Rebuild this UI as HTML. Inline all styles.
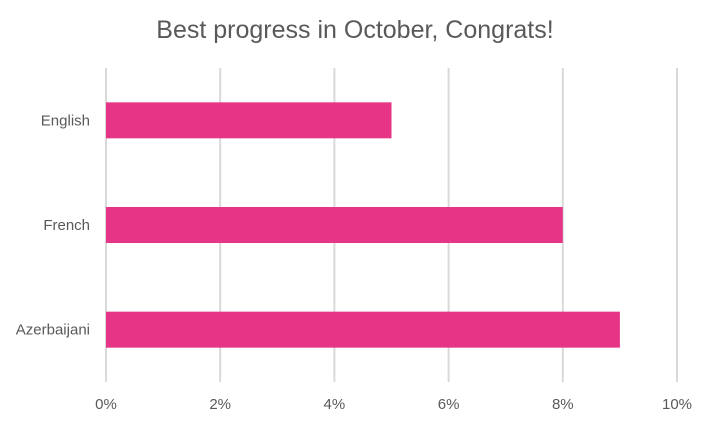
<!DOCTYPE html>
<html><head><meta charset="utf-8"><style>
body{margin:0;background:#fff;}
svg{display:block;font-family:"Liberation Sans",sans-serif;}
</style></head><body>
<svg id="chart" width="710" height="425">
<text x="355" y="38" text-anchor="middle" font-size="25" fill="#595959">Best progress in October, Congrats!</text>
<g id="grid"></g><g id="bars"></g><g id="labels"></g>
</svg>
<script>
const categories = ["English","French","Azerbaijani"];
const values = [5,8,9];
const ticks = [0,2,4,6,8,10];
const tickLabels = ["0%","2%","4%","6%","8%","10%"];
const x0=106,x1=677,yTop=68,yBot=382,xMax=10;
const xs=v=>x0+(v/xMax)*(x1-x0);
const band=(yBot-yTop)/categories.length;
const NS="http://www.w3.org/2000/svg";
const grid=document.getElementById('grid'),bars=document.getElementById('bars'),labels=document.getElementById('labels');
function mk(t,a,p){const e=document.createElementNS(NS,t);for(const k in a)e.setAttribute(k,a[k]);p.appendChild(e);return e;}
ticks.forEach((t,i)=>{
 const l=mk('line',{x1:xs(t),x2:xs(t),y1:yTop,y2:yBot,stroke:'#d9d9d9','stroke-width':2},grid);
 
 
 const tx=mk('text',{x:xs(t),y:409,'text-anchor':'middle','font-size':15,fill:'#595959'},labels);
 tx.textContent=tickLabels[i];
 
 
});
categories.forEach((c,i)=>{
 const cy=yTop+band*(i+0.5);
 const r=mk('rect',{x:xs(0),y:cy-18,width:xs(values[i])-xs(0),height:36,fill:'#E63587'},bars);
 
 
 const tx=mk('text',{x:90,y:cy+5,'text-anchor':'end','font-size':15,fill:'#595959'},labels);
 tx.textContent=c;
 
 
});
</script>
</body></html>
